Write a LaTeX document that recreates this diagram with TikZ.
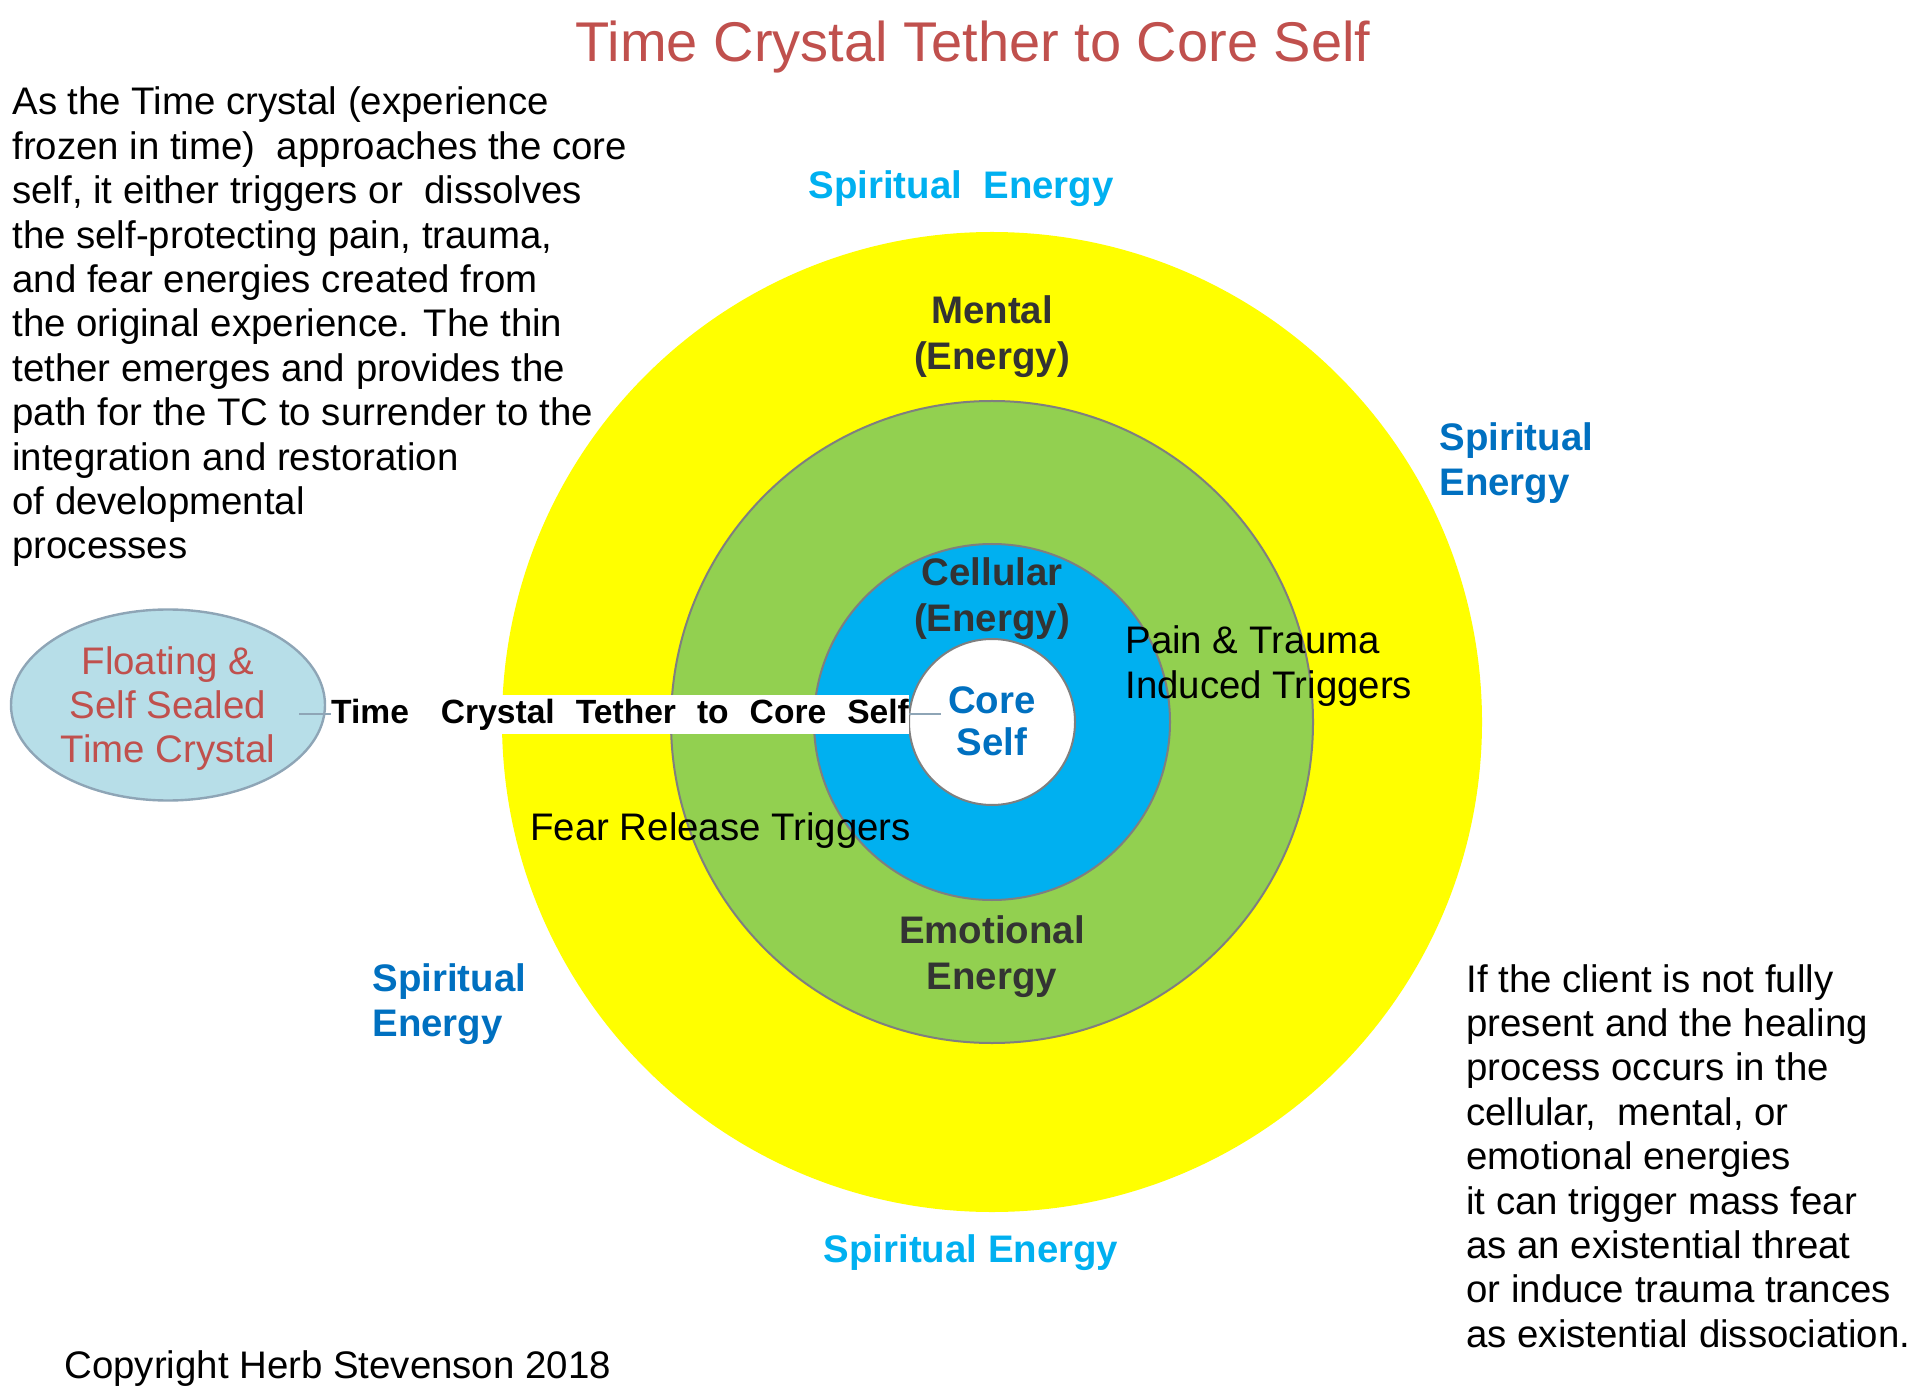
\documentclass[tikz,border=0pt]{standalone}
\usepackage{fontspec}
\setmainfont{Liberation Sans}
\usetikzlibrary{shapes.geometric}

\definecolor{titlered}{HTML}{C0504D}
\definecolor{ringyellow}{HTML}{FFFF00}
\definecolor{ringgreen}{HTML}{92D050}
\definecolor{ringblue}{HTML}{00B0F0}
\definecolor{darkblue}{HTML}{0070C0}
\definecolor{ringgray}{HTML}{333333}
\definecolor{bordergray}{HTML}{7F7F7F}
\definecolor{tcfill}{HTML}{B7DEE8}
\definecolor{tcborder}{HTML}{8EA5B6}

\tikzset{
  bodytext/.style={font=\fontsize{19.2}{22.2}\selectfont, align=left, anchor=west, inner sep=0pt},
  ringlabel/.style={font=\bfseries\fontsize{19.2}{23}\selectfont, text=ringgray, align=center, inner sep=0pt},
  spiritlabel/.style={font=\bfseries\fontsize{19.2}{22.6}\selectfont, align=left, inner sep=0pt},
  ringline/.style={draw=bordergray, line width=1pt},
  tetherlabel/.style={fill=white, text=black, inner xsep=0pt, inner ysep=1.25pt, text height=13pt, text depth=4pt,
    font=\bfseries\fontsize{16.8}{18}\selectfont},
}

\begin{document}
\begin{tikzpicture}[x=0.5pt,y=-0.5pt]
    \useasboundingbox (0,0) rectangle (1920,1400);

    \node[font=\fontsize{28}{32}\selectfont, text=titlered] (title) at (973,47) {Time Crystal Tether to Core Self};

    % energy rings round the core self
    \fill[ringyellow] (992,722) circle (490);
    \filldraw[fill=ringgreen, ringline] (992,722) circle (321);
    \filldraw[fill=ringblue, ringline] (992,722) circle (178);
    \filldraw[fill=white, ringline] (992,722) circle (83);

    \node[ringlabel] (mental) at (992,337) {Mental\\(Energy)};
    \node[ringlabel] (cellular) at (992,599) {Cellular\\(Energy)};
    \node[ringlabel] (emotional) at (992,957) {Emotional\\Energy};

    \node[spiritlabel, text=ringblue] (spirittop) at (961,189) {Spiritual\ \ Energy};
    \node[spiritlabel, text=ringblue] (spiritbottom) at (971,1253) {Spiritual Energy};
    \node[spiritlabel, text=darkblue, anchor=west] (spiritright) at (1439,463) {Spiritual\\Energy};
    \node[spiritlabel, text=darkblue, anchor=west] (spiritleft) at (372,1004) {Spiritual\\Energy};

    \node[bodytext] (pain) at (1125,666) {Pain \& Trauma\\Induced Triggers};
    \node[bodytext] (fear) at (530,831) {Fear Release Triggers};

    % time crystal and its tether
    \node[ellipse, draw=tcborder, line width=1.2pt, fill=tcfill, minimum width=157pt, minimum height=95.5pt,
      inner sep=0pt] (tc) at (168,705) {};
    \node[align=center, text=titlered, font=\fontsize{19.2}{22}\selectfont, inner sep=0pt] (tctxt) at (168,709)
      {Floating \&\\Self Sealed\\Time Crystal};
    \node[font=\bfseries\fontsize{19.2}{20.8}\selectfont, text=darkblue, align=center, inner sep=2pt] (coretxt) at (992,721)
      {Core\\Self};
    \draw[tcborder, line width=1.2pt] ([shift={(-27,9)}]tc.east) -- ([shift={(-3,-7)}]coretxt.west)
      node[midway, tetherlabel] (tether)
      {Time\hspace{16pt}Crystal\hspace{10.5pt}Tether\hspace{10.5pt}to\hspace{10.5pt}Core\hspace{10.5pt}Self};

    \node[bodytext] (intro) at (12,327) {As the Time crystal (experience\\
      frozen in time)\ \ approaches the core\\
      self, it either triggers or\ \ dissolves\\
      the self-protecting pain, trauma,\\
      and fear energies created from\\
      the original experience. The thin\\
      tether emerges and provides the\\
      path for the TC to surrender to the\\
      integration and restoration\\
      of developmental\\
      processes};

    \node[bodytext] (client) at (1466,1156) {If the client is not fully\\
      present and the healing\\
      process occurs in the\\
      cellular,\ \ mental, or\\
      emotional energies\\
      it can trigger mass fear\\
      as an existential threat\\
      or induce trauma trances\\
      as existential dissociation.};

    \node[bodytext] (copyright) at (64,1369) {Copyright Herb Stevenson 2018};
\end{tikzpicture}
\end{document}
